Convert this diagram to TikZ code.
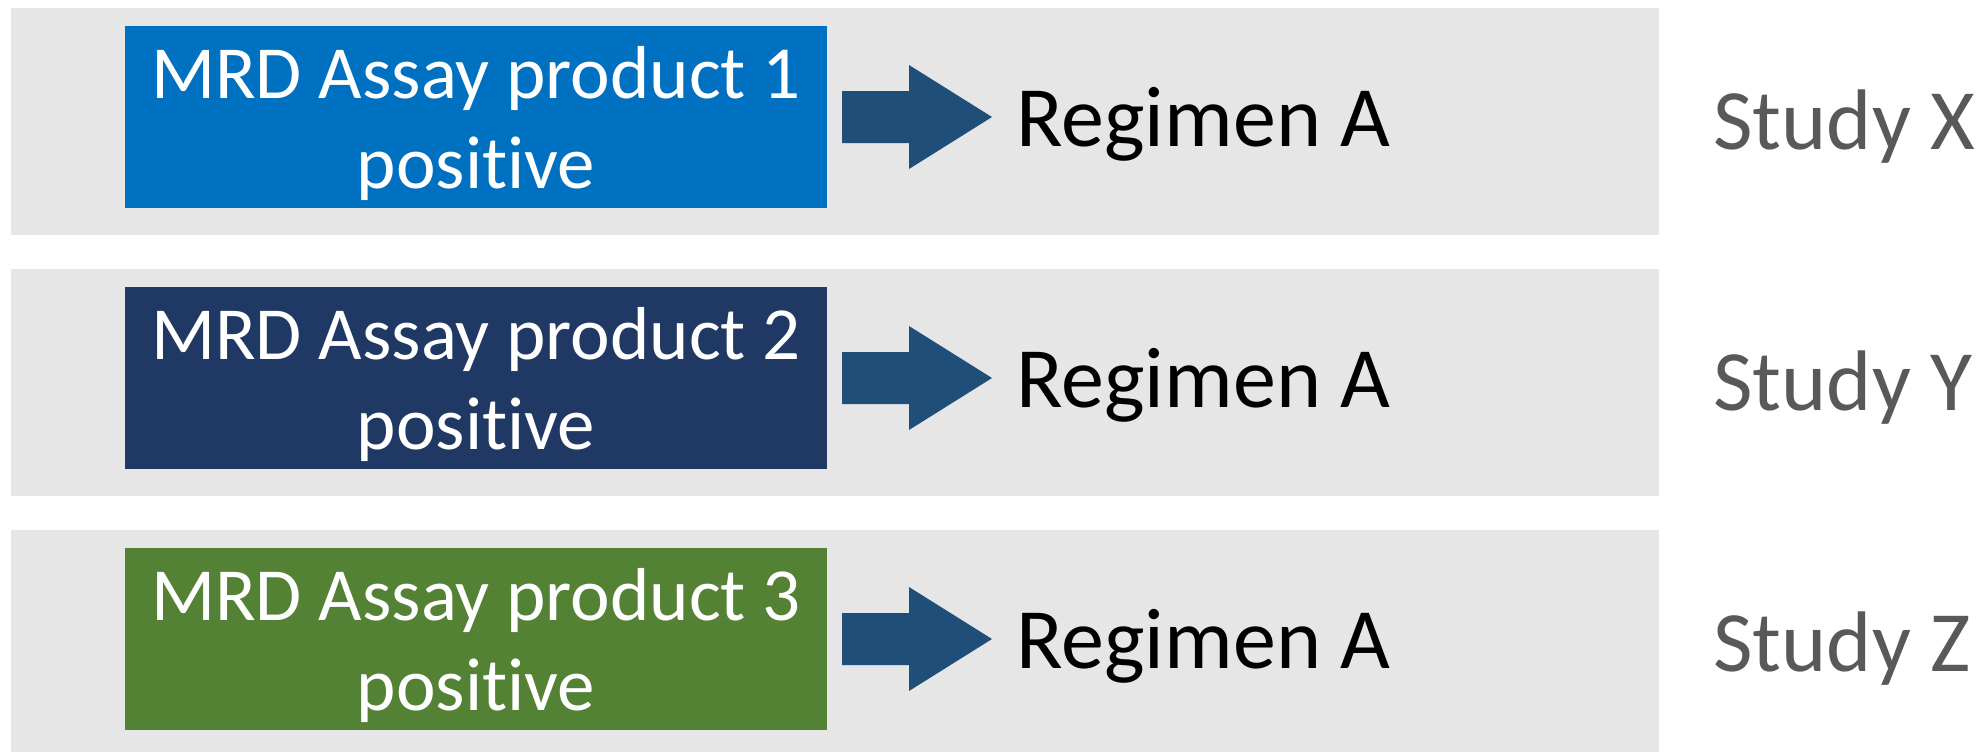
\documentclass[tikz,border=0pt]{standalone}
\usepackage{fontspec}
\setmainfont{Carlito}[Ligatures={NoCommon}]
\definecolor{bandgray}{HTML}{E6E6E6}
\definecolor{boxblue}{HTML}{0070C0}
\definecolor{boxnavy}{HTML}{203864}
\definecolor{boxgreen}{HTML}{548235}
\definecolor{arrowblue}{HTML}{1F4E79}
\definecolor{studygray}{HTML}{595959}
\begin{document}
\begin{tikzpicture}[x=0.5pt,y=-0.5pt,
  band/.style={rectangle, fill=bandgray, minimum width=824pt, minimum height=113.5pt, inner sep=0pt},
  assay/.style={rectangle, minimum width=351pt, minimum height=91pt, inner sep=0pt},
  assaytext/.style={inner sep=0pt, text=white, align=center, font=\fontsize{37.5}{44.8}\selectfont},
  regimen/.style={anchor=base west, inner sep=0pt, text=black, font=\fontsize{43}{50}\selectfont},
  study/.style={anchor=base west, inner sep=0pt, text=studygray, font=\fontsize{43}{50}\selectfont},
  blockarrow/.style={fill=arrowblue}]
\useasboundingbox (0,0) rectangle (1984,751);
\foreach \c/\col/\n/\s in {117/boxblue/1/X, 378/boxnavy/2/Y, 639/boxgreen/3/Z}{
  \node[band] (band\n) at (835,{\c+4.5}) {};
  \node[assay, fill=\col] (box\n) at (476,\c) {};
  \node[assaytext] (boxtext\n) at (476,{\c+6.5}) {MRD Assay product \n\\positive};
  \fill[blockarrow] (842,{\c-26}) -- (909,{\c-26}) -- (909,{\c-52}) -- (992,\c)
     -- (909,{\c+52}) -- (909,{\c+26}) -- (842,{\c+26}) -- cycle;
  \node[regimen] (reg\n) at (1016,{\c+29}) {Regimen A};
  \node[study] (study\n) at (1713,{\c+32.5}) {Study \s};
}
\end{tikzpicture}
\end{document}
